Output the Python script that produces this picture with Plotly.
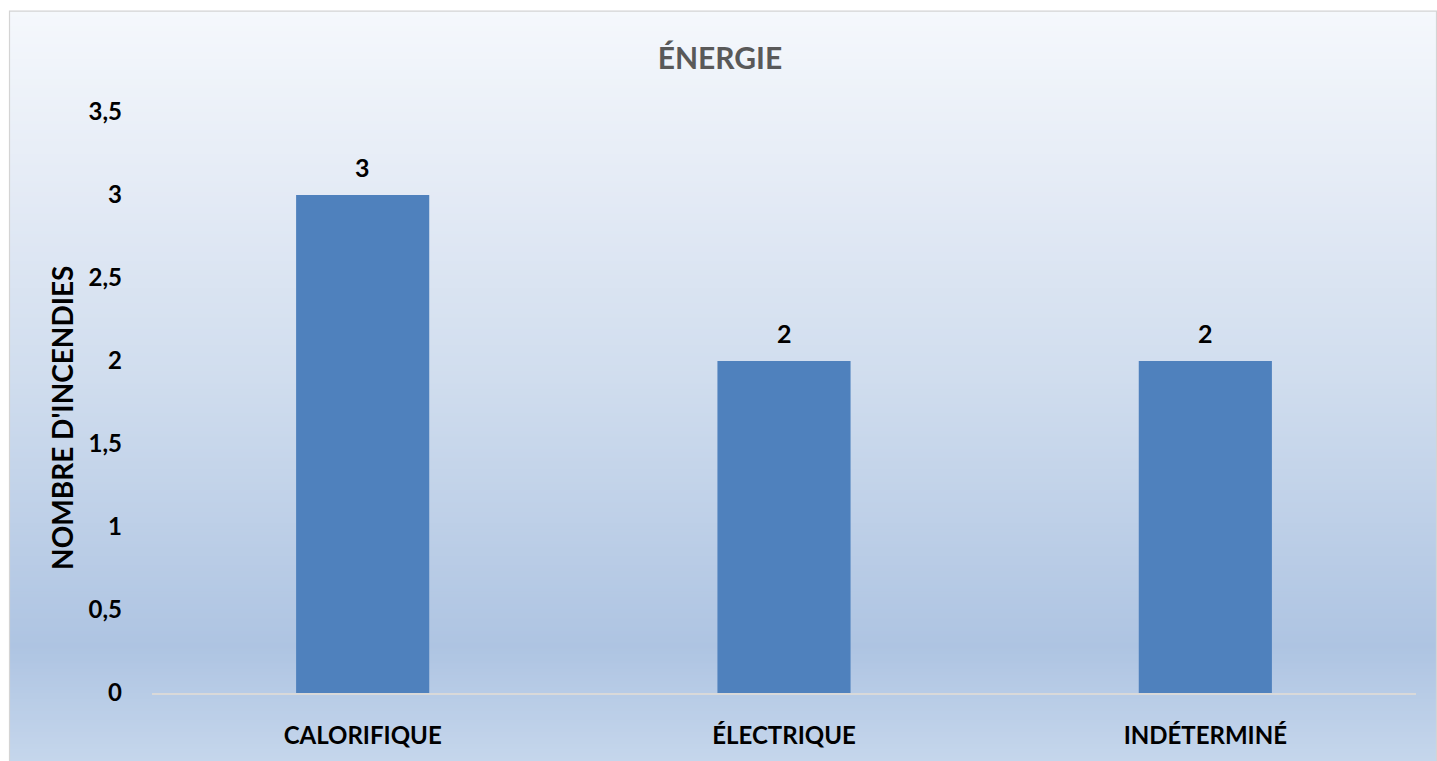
import plotly.graph_objects as go

categories = ["CALORIFIQUE", "ÉLECTRIQUE", "INDÉTERMINÉ"]
values = [3, 2, 2]
y_ticks = [0, 0.5, 1, 1.5, 2, 2.5, 3, 3.5]
y_tick_labels = ["0", "0,5", "1", "1,5", "2", "2,5", "3", "3,5"]
title_text = "ÉNERGIE"
y_title = "NOMBRE D'INCENDIES"

W, H = 1437, 761
L, R, T, B = 152, 21, 112, 64
PW, PH = W - L - R, H - T - B

def px_to_paper_x(px):
    return (px - L) / PW

def px_to_paper_y(py):
    return (H - B - py) / PH

def hex2rgb(h):
    h = h.lstrip("#")
    return tuple(int(h[i:i + 2], 16) for i in (0, 2, 4))

stops = [(10, "#F5F8FC"), (200, "#E3EAF5"), (380, "#D0DDEE"), (650, "#AEC4E2"), (770, "#C6D7EC")]

def color_at(py):
    for (y0, c0), (y1, c1) in zip(stops[:-1], stops[1:]):
        if y0 <= py <= y1:
            t = (py - y0) / (y1 - y0)
            a, b = hex2rgb(c0), hex2rgb(c1)
            return "rgb(%d,%d,%d)" % tuple(round(a[i] + (b[i] - a[i]) * t) for i in range(3))
    return stops[-1][1]

shapes = []
step = 3
y = 10
while y < 770:
    y2 = min(y + step, 770)
    shapes.append(dict(type="rect", xref="paper", yref="paper", layer="below",
                       x0=px_to_paper_x(9), x1=px_to_paper_x(1440),
                       y0=px_to_paper_y(y2 + 1), y1=px_to_paper_y(y),
                       fillcolor=color_at((y + y2) / 2), line=dict(width=0)))
    y = y2
shapes.append(dict(type="rect", xref="paper", yref="paper", layer="below",
                   x0=px_to_paper_x(9.5), x1=px_to_paper_x(1436.5),
                   y0=px_to_paper_y(775), y1=px_to_paper_y(10.5),
                   fillcolor="rgba(0,0,0,0)", line=dict(color="#D4D4D4", width=1.2)))

font_family = "Lato, 'Open Sans', sans-serif"

fig = go.Figure(go.Bar(
    x=categories, y=values,
    marker=dict(color="#4F81BD", line=dict(width=0)),
    hoverinfo="x+y",
))

annotations = [
    dict(x=c, y=v, xref="x", yref="y", text="<b>%s</b>" % v, showarrow=False,
         yanchor="middle", yshift=28,
         font=dict(family=font_family, size=25, color="#000000"))
    for c, v in zip(categories, values)
]
annotations.append(dict(
    x=px_to_paper_x(62), y=px_to_paper_y(420), xref="paper", yref="paper",
    text="<b>" + y_title + "</b>", textangle=-90, showarrow=False,
    xanchor="center", yanchor="middle",
    font=dict(family=font_family, size=28, color="#000000")))

fig.update_layout(
    width=W, height=H,
    margin=dict(l=L, r=R, t=T, b=B, pad=0),
    paper_bgcolor="white", plot_bgcolor="rgba(0,0,0,0)",
    shapes=shapes,
    annotations=annotations,
    bargap=0.684,
    showlegend=False,
    separators=", ",
    title=dict(text="<b>" + title_text + "</b>", x=px_to_paper_x(720), xref="paper", xanchor="center",
               y=1 - 58 / H, yanchor="middle",
               font=dict(family=font_family, size=30, color="#595959")),
    xaxis=dict(showgrid=False, showline=True, linecolor="#D9D9D9", linewidth=2,
               ticks="", tickfont=dict(family=font_family, size=24, color="#000000"),
               tickvals=categories, ticktext=["<b>%s</b>" % c for c in categories],
               ticklabelstandoff=20),
    yaxis=dict(range=[0, 3.5], tickvals=y_ticks,
               ticktext=["<b>%s</b>" % t for t in y_tick_labels],
               showgrid=False, zeroline=False, showline=False, ticks="",
               tickfont=dict(family=font_family, size=24, color="#000000"),
               ticklabelstandoff=29),
)

fig.write_html("out.html", config={"displayModeBar": False},
               post_script="document.body.style.margin='0';document.body.style.overflow='hidden';")
